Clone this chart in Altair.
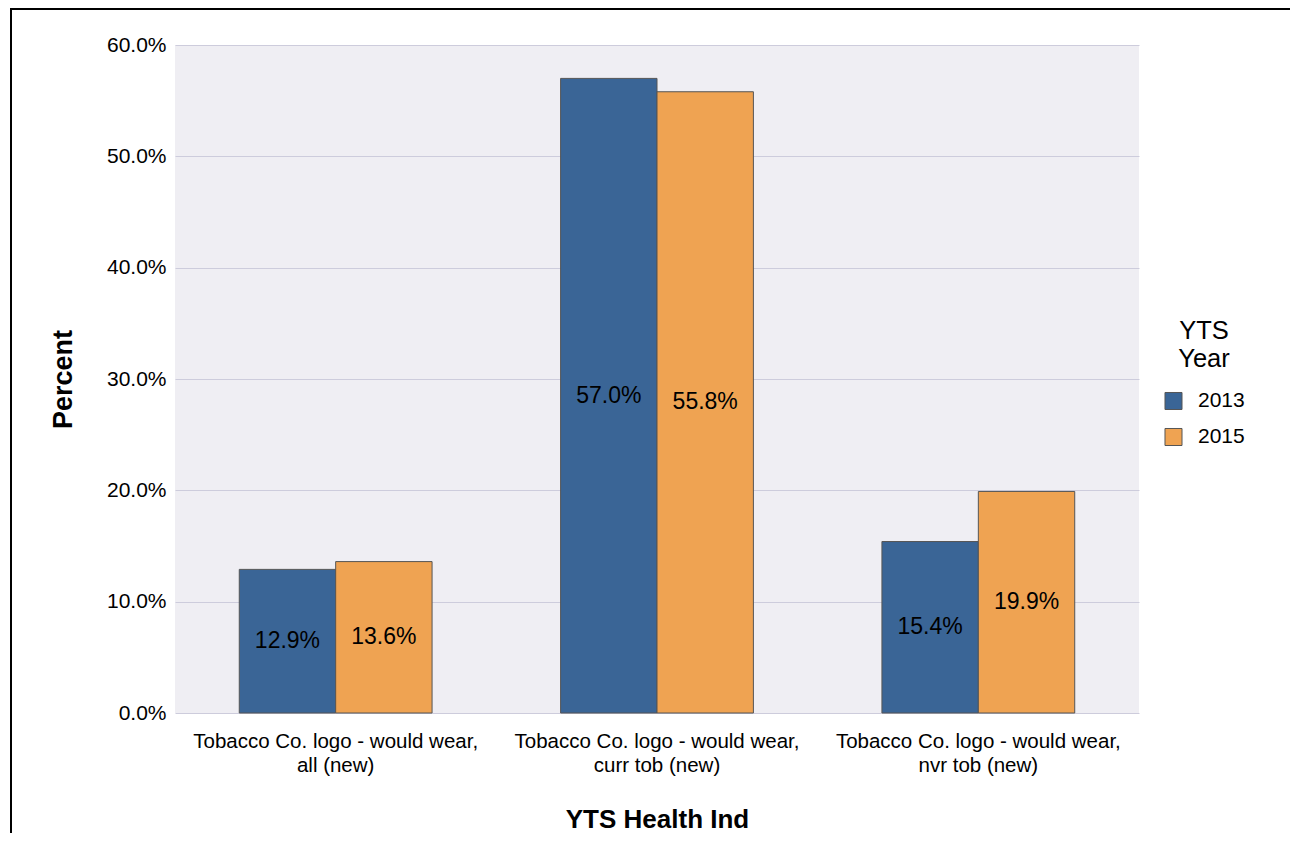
import altair as alt
import pandas as pd

categories = [
    "Tobacco Co. logo - would wear, all (new)",
    "Tobacco Co. logo - would wear, curr tob (new)",
    "Tobacco Co. logo - would wear, nvr tob (new)",
]
years = ["2013", "2015"]
values_2013 = [12.9, 57.0, 15.4]
values_2015 = [13.6, 55.8, 19.9]
colors = ["#3A6596", "#EFA352"]

rows = []
for c, v13, v15 in zip(categories, values_2013, values_2015):
    rows.append({"cat": c, "year": "2013", "value": v13 / 100})
    rows.append({"cat": c, "year": "2015", "value": v15 / 100})
df = pd.DataFrame(rows)

FONT = "Liberation Sans"

x_enc = alt.X(
    "cat:N",
    sort=categories,
    scale=alt.Scale(paddingInner=0.4, paddingOuter=0.2),
    axis=alt.Axis(
        title="YTS Health Ind",
        labelAngle=0,
        labelFontSize=20.5,
        labelColor="#000000",
        labelPadding=18,
        labelLineHeight=24,
        labelLimit=400,
        labelExpr="[slice(datum.label,0,indexof(datum.label,',')+1), slice(datum.label,indexof(datum.label,',')+2)]",
        ticks=False,
        domain=False,
        titleFontSize=26,
        titleFontWeight="bold",
        titleColor="#000000",
        titlePadding=31,
    ),
)

y_scale = alt.Scale(domain=[0, 0.6], nice=False)

bars = alt.Chart(df).mark_bar(stroke="#555555", strokeWidth=1).encode(
    x=x_enc,
    xOffset=alt.XOffset("year:N", sort=years),
    y=alt.Y(
        "value:Q",
        scale=y_scale,
        axis=alt.Axis(
            title="Percent",
            format=".1%",
            values=[0, 0.1, 0.2, 0.3, 0.4, 0.5, 0.6],
            labelFontSize=21,
            labelColor="#000000",
            labelPadding=9,
            ticks=False,
            domain=False,
            gridColor="#CDCCDC",
            gridWidth=1,
            titleFontSize=27,
            titleFontWeight="bold",
            titleColor="#000000",
            titlePadding=29,
        ),
    ),
    color=alt.Color(
        "year:N",
        sort=years,
        scale=alt.Scale(domain=years, range=colors),
        legend=alt.Legend(
            title=["YTS", "Year"],
            orient="none",
            legendX=988,
            legendY=274,
            titleFontSize=25.5,
            titleFontWeight="normal",
            titleColor="#000000",
            titleAnchor="middle",
            titleAlign="center",
            titleLineHeight=28,
            titlePadding=18,
            labelFontSize=21,
            labelColor="#000000",
            labelOffset=14,
            symbolType="square",
            symbolSize=290,
            symbolStrokeColor="#555555",
            symbolStrokeWidth=1,
            symbolOpacity=1,
            rowPadding=13,
        ),
    ),
)

labels = alt.Chart(df).transform_calculate(
    mid="datum.value / 2"
).mark_text(fontSize=23, color="#000000", font=FONT, baseline="middle").encode(
    x=alt.X("cat:N", sort=categories),
    xOffset=alt.XOffset("year:N", sort=years),
    y=alt.Y("mid:Q", scale=y_scale),
    text=alt.Text("value:Q", format=".1%"),
)

frame = alt.Chart(pd.DataFrame({"a": [0]})).mark_rect(
    fill=None, stroke="#000000", strokeWidth=2
).encode(
    x=alt.value(-164),
    x2=alt.value(1116),
    y=alt.value(-36),
    y2=alt.value(820),
)

chart = alt.layer(bars, labels, frame).properties(
    width=964,
    height=668,
    autosize=alt.AutoSizeParams(type="none"),
    padding={"left": 167, "top": 37, "right": 151, "bottom": 120},
).configure(
    font=FONT,
).configure_view(
    fill="#EFEEF3",
    stroke=None,
)

chart.save("out.html", embed_options={"renderer": "svg", "actions": False})
